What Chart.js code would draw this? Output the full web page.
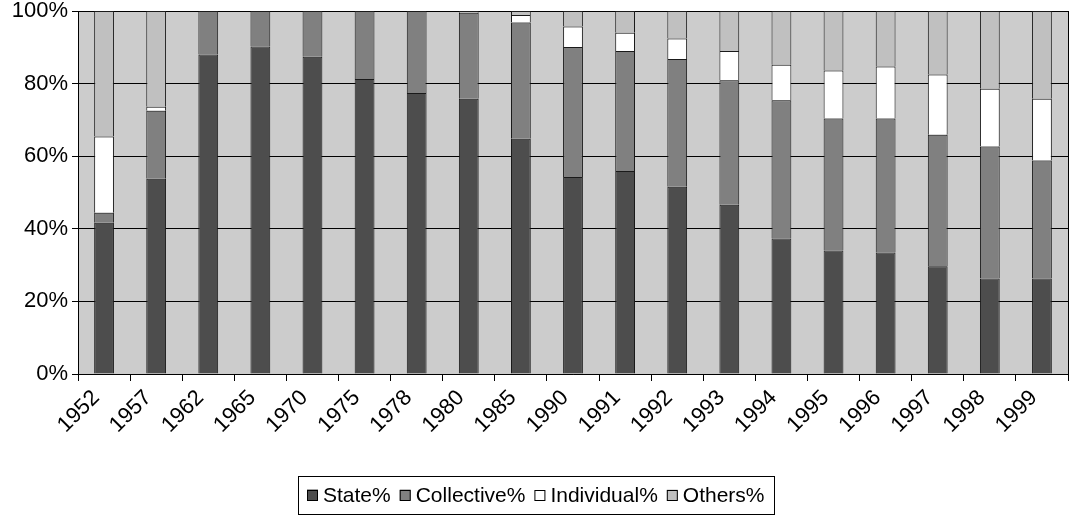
<!DOCTYPE html>
<html>
<head>
<meta charset="utf-8">
<script src="https://cdn.jsdelivr.net/npm/chart.js@4.4.1/dist/chart.umd.min.js"></script>
<style>
  html, body { margin: 0; padding: 0; background: #fff; }
  #wrap { width: 1071px; height: 522px; }
</style>
</head>
<body>
<div id="wrap"><canvas id="graph1" width="1071" height="522"></canvas></div>
<script>
// years on the x axis
var years = ['1952', '1957', '1962', '1965', '1970', '1975', '1978', '1980', '1985', '1990',
             '1991', '1992', '1993', '1994', '1995', '1996', '1997', '1998', '1999']

// shares in percent
var statePct      = [41.7, 53.8, 88.0, 90.2, 87.4, 81.3, 77.4, 75.8, 64.8, 54.3, 55.9, 51.6, 46.6, 37.3, 34.0, 33.5, 29.7, 26.3, 26.3]
var collectivePct = [2.7, 18.7, 12.0, 9.8, 12.6, 18.7, 22.6, 23.7, 32.0, 35.8, 33.1, 35.2, 34.3, 38.1, 36.4, 36.9, 36.2, 36.4, 32.5]
var individualPct = [21.0, 1.1, 0, 0, 0, 0, 0, 0, 2.1, 5.6, 5.0, 5.6, 8.1, 9.8, 13.2, 14.3, 16.6, 15.9, 17.0]
var othersPct     = [34.6, 26.4, 0, 0, 0, 0, 0, 0.5, 1.1, 4.3, 6.0, 7.6, 11.0, 14.8, 16.4, 15.3, 17.5, 21.4, 24.2]

var yTicks = [0, 20, 40, 60, 80, 100]

var fam = 'Liberation Sans, Arial, sans-serif'
var font = { family: fam, size: 22 }

// grey plot background, right frame line and the boxed legend
var plotBg = {
    id: 'plotBg',
    beforeDraw: function (chart) {
        var a = chart.chartArea, c = chart.ctx
        c.save()
        c.fillStyle = '#cccccc'
        c.fillRect(a.left, a.top, a.right - a.left, a.bottom - a.top)
        c.restore()
    },
    afterDraw: function (chart) {
        var a = chart.chartArea, c = chart.ctx
        c.save()
        c.strokeStyle = '#000'
        c.lineWidth = 1
        c.beginPath()
        c.moveTo(Math.round(a.right) + 0.5, a.top)
        c.lineTo(Math.round(a.right) + 0.5, a.bottom)
        c.stroke()

        // legend
        var sq = 11, gapTxt = 5, gapItem = 9, margin = 9, cy = 495
        c.font = '21px ' + fam
        var sets = chart.data.datasets
        var total = 0
        sets.forEach(function (d, i) {
            total += sq + gapTxt + c.measureText(d.label).width
            if (i < sets.length - 1) total += gapItem
        })
        var x = Math.round(chart.width / 2 - total / 2)
        c.strokeRect(x - margin + 0.5, 476.5, Math.round(total + 2 * margin), 38)
        c.textBaseline = 'middle'
        sets.forEach(function (d) {
            c.fillStyle = d.backgroundColor
            c.fillRect(x, cy - sq / 2, sq, sq)
            c.strokeStyle = '#000'
            c.strokeRect(x + 0.5, Math.round(cy - sq / 2) + 0.5, sq - 1, sq - 1)
            x += sq + gapTxt
            c.fillStyle = '#000'
            c.fillText(d.label, x, cy + 1)
            x += c.measureText(d.label).width + gapItem
        })
        c.restore()
    }
}

function ds(label, values, color) {
    return {
        label: label,
        data: values,
        backgroundColor: color,
        borderColor: '#1a1a1a',
        borderWidth: 1,
        barPercentage: 0.38,
        categoryPercentage: 1.0
    }
}

var data = {
    labels: years,
    datasets: [
        ds('State%', statePct, '#4d4d4d'),
        ds('Collective%', collectivePct, '#808080'),
        ds('Individual%', individualPct, '#ffffff'),
        ds('Others%', othersPct, '#c0c0c0')
    ]
}

var options = {
    responsive: false,
    animation: false,
    layout: { padding: { left: 0, right: 3, top: 11, bottom: 62 } },
    plugins: {
        tooltip: { enabled: false },
        legend: { display: false }
    },
    scales: {
        x: {
            stacked: true,
            offset: true,
            afterFit: function (s) { s.height = 86 },
            grid: { offset: true, drawOnChartArea: false, color: '#000', tickLength: 7 },
            border: { color: '#000' },
            ticks: { font: font, color: '#000', maxRotation: 45, minRotation: 45, padding: 4, labelOffset: -8 }
        },
        y: {
            stacked: true,
            min: 0,
            max: 100,
            afterFit: function (s) { s.width = 78; s.paddingTop = 0; s.paddingBottom = 0 },
            afterBuildTicks: function (s) { s.ticks = yTicks.map(function (v) { return { value: v } }) },
            grid: { color: '#000', tickLength: 6 },
            border: { color: '#000' },
            ticks: { font: font, color: '#000', padding: 4, callback: function (v) { return v + '%' } }
        }
    }
}

var config = {
    type: 'bar',
    data: data,
    options: options,
    plugins: [plotBg]
}

var graph1 = new Chart(document.getElementById('graph1').getContext('2d'), config)
</script>
</body>
</html>
